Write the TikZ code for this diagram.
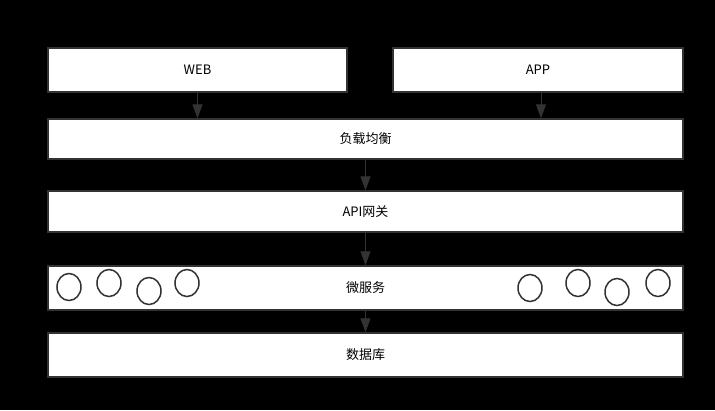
\documentclass[tikz,border=0pt]{standalone}
\usepackage{fontspec}
\setmainfont{Noto Sans CJK SC}
\usetikzlibrary{arrows.meta,shapes.geometric}

\definecolor{linegray}{HTML}{333333}

\tikzset{
	layer/.style={draw=linegray, line width=1.5pt, fill=white, inner sep=0pt, font=\fontsize{13}{15}\selectfont},
	svc/.style={ellipse, draw=linegray, line width=1.5pt, minimum width=24pt, minimum height=27pt, inner sep=0pt},
	flow/.style={draw=linegray, line width=1pt, -{Triangle[length=14pt,width=10pt]}}
}

\begin{document}
\begin{tikzpicture}[x=1pt,y=-1pt]
		% Background
		\fill[black] (0,0) rectangle (715,410);
		\useasboundingbox (0,0) rectangle (715,410);
		
		% Client layer
		\node[layer, minimum width=299pt, minimum height=44pt] (web) at (197.5,70) {WEB};
		\node[layer, minimum width=290pt, minimum height=44pt] (app) at (538,70) {APP};
		
		% Middle layers
		\node[layer, minimum width=635pt, minimum height=40pt] (lb) at (365.5,139) {负载均衡};
		\node[layer, minimum width=635pt, minimum height=41pt] (gw) at (365.5,211.5) {API网关};
		\node[layer, minimum width=635pt, minimum height=44pt] (ms) at (365.5,288) {微服务};
		\node[layer, minimum width=635pt, minimum height=44pt] (db) at (365.5,355) {数据库};
		
		% Services
		\node[svc] (s1) at (69,287) {};
		\node[svc] (s2) at (109,283) {};
		\node[svc] (s3) at (149,291) {};
		\node[svc] (s4) at (187,283) {};
		\node[svc] (s5) at (530,288) {};
		\node[svc] (s6) at (578,283) {};
		\node[svc] (s7) at (617,292) {};
		\node[svc] (s8) at (658,283) {};
		
		% Draw arrows
		\draw[flow] (web.south) -- (web.south |- lb.north);
		\draw[flow] ([xshift=3pt]app.south) -- ([xshift=3pt]app.south |- lb.north);
		\draw[flow] (lb) -- (gw);
		\draw[flow] (gw) -- (ms);
		\draw[flow] (ms) -- (db);
		
\end{tikzpicture}
\end{document}
